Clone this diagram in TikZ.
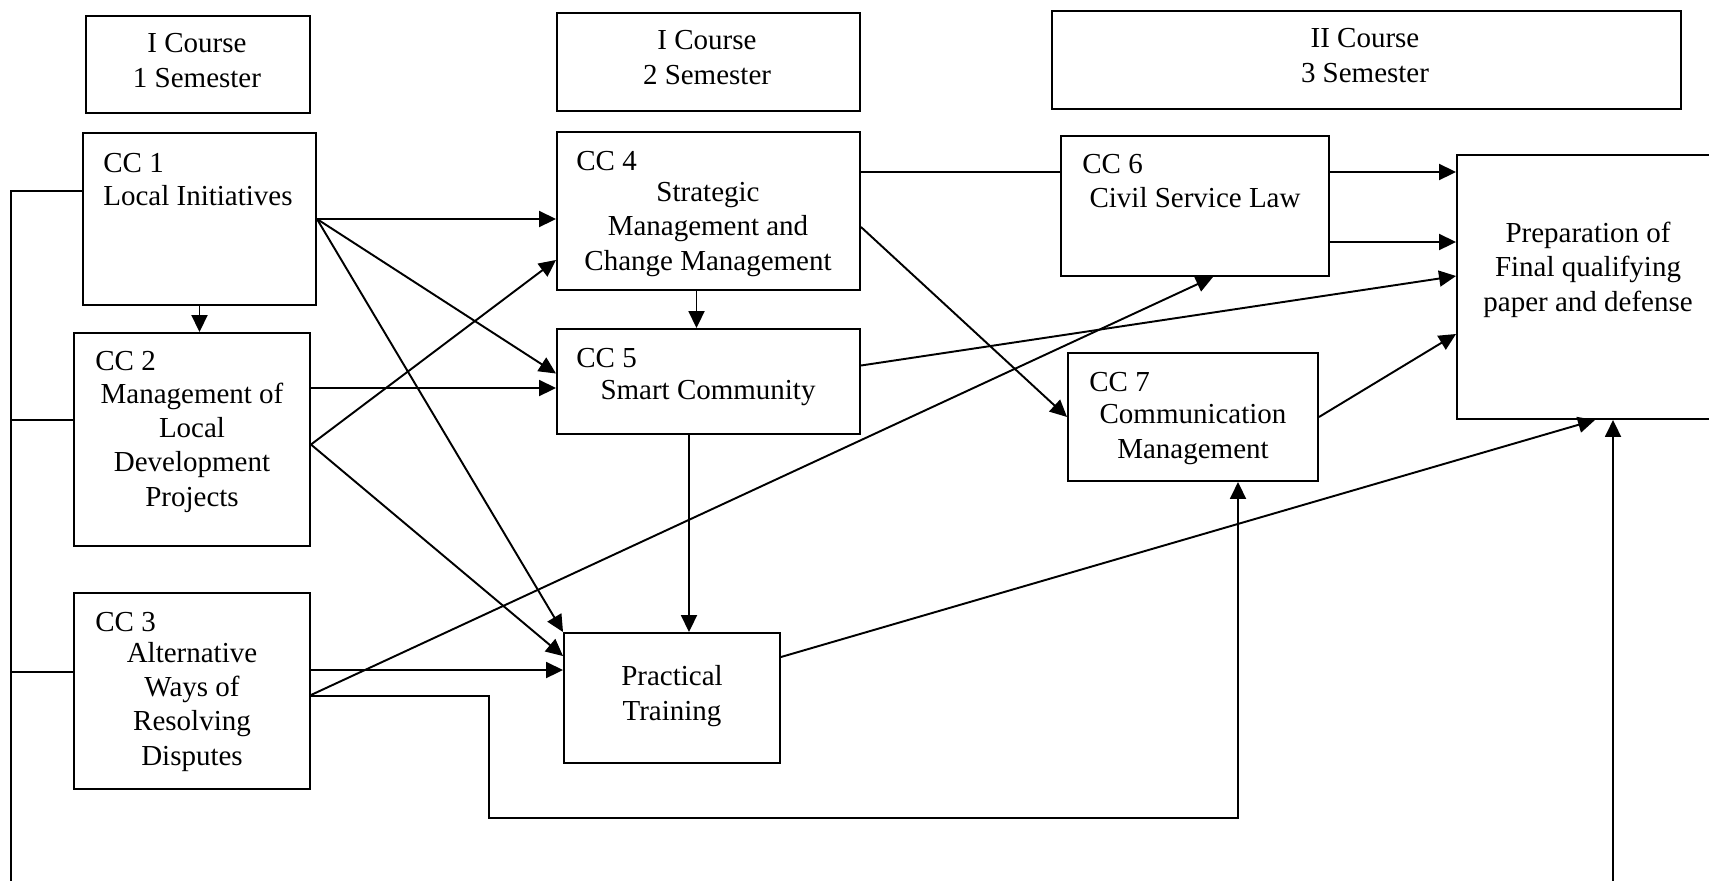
\documentclass[tikz,border=0pt]{standalone}
\usepackage{fontspec}
\setmainfont{Liberation Serif}
\usetikzlibrary{positioning,arrows.meta,calc,fit}

\begin{document}
\begin{tikzpicture}[
  x=0.02cm, y=-0.02cm,
  >={Triangle[length=0.34cm,width=0.32cm]},
  box/.style={draw,line width=1.1pt,inner sep=0pt},
  txt/.style={inner sep=0pt,anchor=base,align=center},
  cc/.style={inner sep=0pt,anchor=base west},
  link/.style={line width=1.1pt},
  every node/.style={font=\fontsize{16.5}{19.4}\selectfont}
]
\useasboundingbox (0,0) rectangle (1709,880);
\clip (0,0) rectangle (1709,880);

% course / semester headers
\node[box,fit={(86,16) (310,113)}] (sem1) {};
\node[box,fit={(557,13) (860,111)}] (sem2) {};
\node[box,fit={(1052,11) (1681,109)}] (sem3) {};
\node[txt] (sem1txt) at (197,87) {I Course\\1 Semester};
\node[txt] (sem2txt) at (707,84) {I Course\\2 Semester};
\node[txt] (sem3txt) at (1365,82) {II Course\\3 Semester};

% course components
\node[box,fit={(83,133) (316,305)}] (cc1) {};
\node[box,fit={(74,333) (310,546)}] (cc2) {};
\node[box,fit={(74,593) (310,789)}] (cc3) {};
\node[box,fit={(557,132) (860,290)}] (cc4) {};
\node[box,fit={(557,329) (860,434)}] (cc5) {};
\node[box,fit={(1061,136) (1329,276)}] (cc6) {};
\node[box,fit={(1068,353) (1318,481)}] (cc7) {};
\node[box,fit={(564,633) (780,763)}] (pt) {};
\node[box,fit={(1457,155) (1769,419)}] (final) {};

% texts (multi-line ones sit on their last baseline)
\node[cc] (cc1id) at (103,172) {CC 1};
\node[cc] (cc1txt) at (103,205) {Local Initiatives};
\node[cc] (cc2id) at (95,370) {CC 2};
\node[txt] (cc2txt) at (192,506) {Management of\\Local\\Development\\Projects};
\node[cc] (cc3id) at (95,631) {CC 3};
\node[txt] (cc3txt) at (192,765) {Alternative\\Ways of\\Resolving\\Disputes};
\node[cc] (cc4id) at (576,170) {CC 4};
\node[txt] (cc4txt) at (708,270) {Strategic\\Management and\\Change Management};
\node[cc] (cc5id) at (576,367) {CC 5};
\node[txt] (cc5txt) at (708,399) {Smart Community};
\node[cc] (cc6id) at (1082,173) {CC 6};
\node[txt] (cc6txt) at (1195,207) {Civil Service Law};
\node[cc] (cc7id) at (1089,391) {CC 7};
\node[txt] (cc7txt) at (1193,458) {Communication\\Management};
\node[txt] (pttxt) at (672,720) {Practical\\Training};
\node[txt] (finaltxt) at (1588,311) {Preparation of\\Final qualifying\\paper and defense};

% left bus line, running out of the page and back up to the final box
\coordinate (busTop) at (11,191);
\coordinate (busBot) at (11,905);
\coordinate (tap2) at (11,420);
\coordinate (tap3) at (11,672);
\coordinate (bend) at (489,818);
\draw[link,->] (cc1.west |- busTop) -- (busTop) -- (busBot) -| (final.south);
\draw[link] (tap2) -- (tap2 -| cc2.west);
\draw[link] (tap3) -- (tap3 -| cc3.west);

% first semester links
\draw[link,->] (cc1.south) -- (cc1.south |- cc2.north);
\draw[link,->] (cc1.east) -- (cc1.east -| cc4.west);
\draw[link,->] (cc1.east) -- ($(cc5.west)+(0,-8)$);
\draw[link,->] (cc1.east) -- (pt.north west);
\draw[link,->] ($(cc2.east)+(0,5)$) -- ($(cc4.south west)+(0,-31)$);
\path ($(cc5.west)+(0,6.5)$) coordinate (c25);
\draw[link,->] (c25 -| cc2.east) -- (c25);
\draw[link,->] ($(cc2.east)+(0,5)$) -- ($(pt.north west)+(0,24)$);
\draw[link,->] ($(cc3.east)+(0,-21)$) -- ($(pt.west)+(0,-28)$);
\draw[link,->] ($(cc3.east)+(0,4)$) -- ($(cc6.south)+(18,0)$);
\draw[link,->] ($(cc3.east)+(0,5)$) -| (bend) -| ($(cc7.south)+(45,0)$);

% second semester links
\draw[link,->] ($(cc4.south)+(-12,0)$) coordinate (c45) -- (c45 |- cc5.north);
\draw[link] ($(cc4.east)+(0,-39)$) coordinate (c46) -- (c46 -| cc6.west);
\draw[link,->] ($(cc4.east)+(0,16)$) -- (cc7.west);
\draw[link,->] ($(cc5.south)+(-19.5,0)$) coordinate (c5d) -- (c5d |- pt.north);
\draw[link,->] ($(cc5.east)+(0,-16)$) -- ($(final.west)+(0,-11)$);
\draw[link,->] ($(pt.east)+(0,-41)$) -- ($(final.south)+(-18,0)$);

% third semester links
\draw[link,->] ($(cc6.east)+(0,-34)$) coordinate (c6a) -- (c6a -| final.west);
\draw[link,->] ($(cc6.east)+(0,36)$) coordinate (c6b) -- (c6b -| final.west);
\draw[link,->] (cc7.east) -- ($(final.west)+(0,47)$);
\end{tikzpicture}
\end{document}
